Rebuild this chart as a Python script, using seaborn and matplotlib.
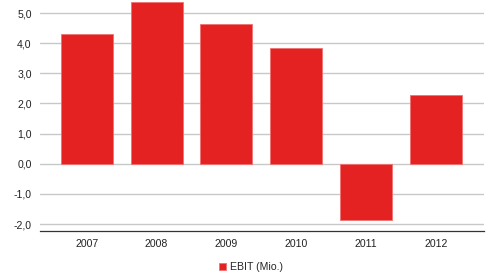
import matplotlib
matplotlib.use("Agg")
import matplotlib.pyplot as plt
import seaborn as sns
import pandas as pd

years = ["2007", "2008", "2009", "2010", "2011", "2012"]
ebit = [4.32, 5.36, 4.63, 3.83, -1.86, 2.28]
series_name = "EBIT (Mio.)"

df = pd.DataFrame({"year": years, "ebit": ebit, "series": series_name})

sns.set_style("white")
plt.rcParams["font.family"] = ["Liberation Sans", "DejaVu Sans"]

fig = plt.figure(figsize=(4.91, 2.75), dpi=100)
ax = fig.add_axes([40 / 491, 1 - 231 / 275, 444 / 491, 230 / 275])

sns.barplot(data=df, x="year", y="ebit", hue="series", palette=["#E52222"],
            saturation=1, width=0.745, edgecolor="#F07070", linewidth=0.6,
            ax=ax, zorder=3)

ax.set_xlim(-0.67, 5.69)
ax.set_ylim(-2.23, 5.4)
ax.set_yticks([-2, -1, 0, 1, 2, 3, 4, 5])
ax.set_yticklabels([f"{v:.1f}".replace(".", ",") for v in [-2, -1, 0, 1, 2, 3, 4, 5]])
ax.grid(axis="y", color="#C8C8C8", linewidth=1.0, zorder=0)
ax.set_axisbelow(True)

for s in ["top", "right", "left"]:
    ax.spines[s].set_visible(False)
ax.spines["bottom"].set_color("#333333")
ax.spines["bottom"].set_linewidth(0.9)

ax.tick_params(axis="both", length=0, labelsize=7.6, colors="#222222")
ax.tick_params(axis="x", pad=6)
ax.tick_params(axis="y", pad=6)
ax.set_xlabel("")
ax.set_ylabel("")

ax.legend(loc="upper center", bbox_to_anchor=(0.475, -0.095), frameon=False,
          fontsize=7.6, handlelength=0.7, handleheight=0.7, handletextpad=0.4)

fig.savefig("out.png", dpi=100)
